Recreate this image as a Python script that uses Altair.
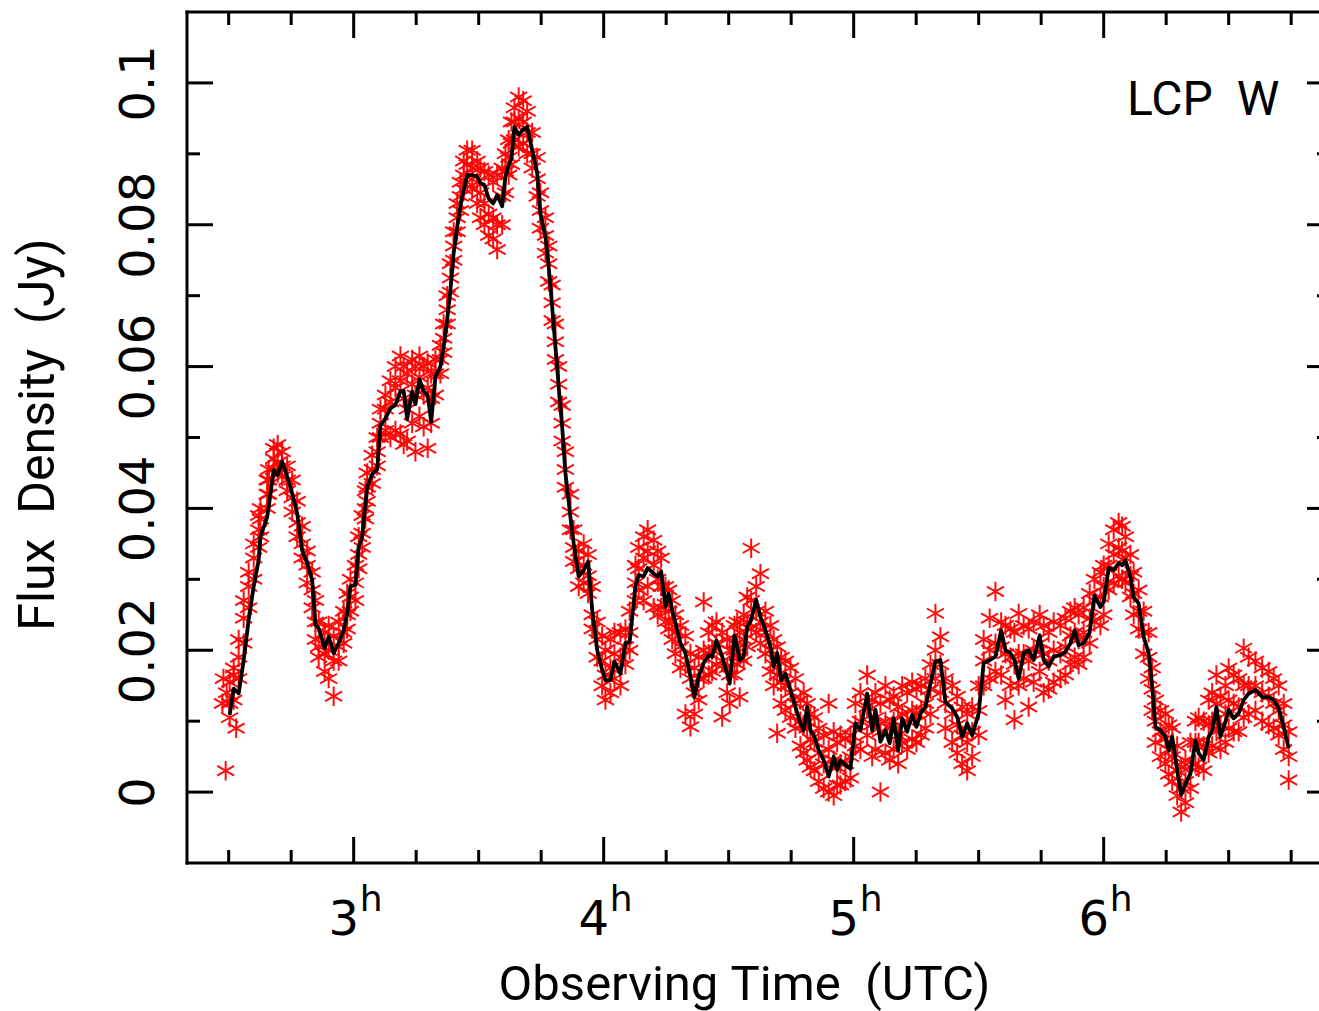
import altair as alt
import pandas as pd

# ---------------- data ----------------
line_time = [
    2.504, 2.520, 2.540, 2.560, 2.580, 2.600, 2.620, 2.627, 2.654, 2.660,
    2.680, 2.696, 2.714, 2.734, 2.754, 2.774, 2.794, 2.814, 2.834, 2.847,
    2.860, 2.884, 2.900, 2.920, 2.940, 2.960, 2.974, 2.987, 3.007, 3.020,
    3.034, 3.047, 3.054, 3.074, 3.094, 3.107, 3.127, 3.147, 3.167, 3.187,
    3.200, 3.214, 3.234, 3.247, 3.263, 3.280, 3.296, 3.310, 3.327, 3.347,
    3.360, 3.374, 3.387, 3.400, 3.414, 3.427, 3.440, 3.454, 3.474, 3.494,
    3.507, 3.523, 3.540, 3.558, 3.574, 3.594, 3.607, 3.620, 3.631, 3.643,
    3.660, 3.678, 3.694, 3.714, 3.734, 3.747, 3.767, 3.780, 3.794, 3.807,
    3.820, 3.834, 3.847, 3.867, 3.880, 3.900, 3.920, 3.938, 3.954, 3.974,
    3.994, 4.007, 4.027, 4.043, 4.067, 4.087, 4.104, 4.127, 4.140, 4.160,
    4.176, 4.200, 4.216, 4.230, 4.247, 4.260, 4.274, 4.287, 4.307, 4.327,
    4.347, 4.363, 4.380, 4.400, 4.420, 4.434, 4.451, 4.474, 4.494, 4.504,
    4.523, 4.534, 4.544, 4.560, 4.574, 4.590, 4.610, 4.627, 4.647, 4.667,
    4.680, 4.694, 4.710, 4.727, 4.747, 4.767, 4.787, 4.800, 4.814, 4.827,
    4.843, 4.860, 4.880, 4.900, 4.920, 4.934, 4.947, 4.967, 4.987, 5.007,
    5.027, 5.054, 5.074, 5.087, 5.107, 5.127, 5.144, 5.160, 5.178, 5.194,
    5.214, 5.234, 5.251, 5.270, 5.287, 5.307, 5.327, 5.347, 5.367, 5.394,
    5.414, 5.434, 5.454, 5.474, 5.500, 5.520, 5.544, 5.567, 5.590, 5.607,
    5.627, 5.643, 5.660, 5.680, 5.700, 5.720, 5.744, 5.760, 5.780, 5.800,
    5.827, 5.847, 5.867, 5.884, 5.900, 5.920, 5.944, 5.963, 5.987, 6.000,
    6.020, 6.040, 6.060, 6.074, 6.087, 6.107, 6.120, 6.140, 6.160, 6.180,
    6.194, 6.207, 6.227, 6.247, 6.260, 6.274, 6.294, 6.310, 6.327, 6.347,
    6.367, 6.380, 6.400, 6.420, 6.434, 6.451, 6.467, 6.487, 6.500, 6.520,
    6.540, 6.560, 6.580, 6.607, 6.634, 6.660, 6.680, 6.700, 6.720, 6.740,
]

line_flux = [
    0.0109, 0.0146, 0.0139, 0.0186, 0.0243, 0.0290, 0.0327, 0.0360, 0.0388, 0.0402,
    0.0454, 0.0447, 0.0466, 0.0445, 0.0421, 0.0393, 0.0341, 0.0323, 0.0299, 0.0236,
    0.0231, 0.0203, 0.0219, 0.0196, 0.0210, 0.0228, 0.0252, 0.0290, 0.0292, 0.0346,
    0.0360, 0.0407, 0.0430, 0.0448, 0.0455, 0.0517, 0.0527, 0.0541, 0.0546, 0.0565,
    0.0566, 0.0526, 0.0565, 0.0547, 0.0582, 0.0565, 0.0560, 0.0522, 0.0586, 0.0600,
    0.0628, 0.0666, 0.0708, 0.0760, 0.0797, 0.0826, 0.0849, 0.0870, 0.0870, 0.0868,
    0.0859, 0.0856, 0.0837, 0.0830, 0.0842, 0.0826, 0.0868, 0.0884, 0.0894, 0.0938,
    0.0927, 0.0934, 0.0938, 0.0905, 0.0873, 0.0816, 0.0783, 0.0741, 0.0684, 0.0628,
    0.0572, 0.0515, 0.0450, 0.0388, 0.0351, 0.0304, 0.0313, 0.0325, 0.0257, 0.0200,
    0.0172, 0.0158, 0.0158, 0.0184, 0.0167, 0.0210, 0.0212, 0.0290, 0.0306, 0.0304,
    0.0316, 0.0308, 0.0304, 0.0311, 0.0261, 0.0280, 0.0257, 0.0238, 0.0210, 0.0196,
    0.0163, 0.0134, 0.0163, 0.0182, 0.0193, 0.0191, 0.0214, 0.0191, 0.0167, 0.0153,
    0.0221, 0.0205, 0.0186, 0.0191, 0.0233, 0.0243, 0.0271, 0.0247, 0.0228, 0.0205,
    0.0177, 0.0196, 0.0158, 0.0167, 0.0144, 0.0120, 0.0097, 0.0087, 0.0120, 0.0087,
    0.0078, 0.0059, 0.0045, 0.0022, 0.0050, 0.0031, 0.0045, 0.0038, 0.0033, 0.0097,
    0.0087, 0.0139, 0.0087, 0.0116, 0.0071, 0.0087, 0.0069, 0.0104, 0.0059, 0.0104,
    0.0085, 0.0109, 0.0092, 0.0113, 0.0120, 0.0153, 0.0184, 0.0186, 0.0127, 0.0118,
    0.0106, 0.0078, 0.0097, 0.0080, 0.0111, 0.0182, 0.0186, 0.0191, 0.0228, 0.0200,
    0.0196, 0.0186, 0.0160, 0.0196, 0.0200, 0.0186, 0.0221, 0.0186, 0.0177, 0.0191,
    0.0193, 0.0198, 0.0210, 0.0228, 0.0207, 0.0210, 0.0225, 0.0277, 0.0261, 0.0268,
    0.0316, 0.0313, 0.0323, 0.0320, 0.0327, 0.0304, 0.0275, 0.0266, 0.0219, 0.0196,
    0.0149, 0.0092, 0.0087, 0.0078, 0.0059, 0.0078, 0.0031, -0.0004, 0.0012, 0.0026,
    0.0073, 0.0055, 0.0045, 0.0078, 0.0087, 0.0120, 0.0078, 0.0099, 0.0116, 0.0104,
    0.0111, 0.0130, 0.0139, 0.0144, 0.0134, 0.0134, 0.0130, 0.0118, 0.0092, 0.0062,
]

# individual measurements (red asterisks) at each sample time of the curve
red_flux = [
    [0.0125, 0.0155, 0.0105], [0.0165, 0.0130, 0.0175], [0.0190, 0.0160, 0.0215], [0.0245, 0.0210, 0.0270], [0.0290, 0.0260, 0.0310],
    [0.0330, 0.0300, 0.0350], [0.0370, 0.0345, 0.0390], [0.0385, 0.0360, 0.0400], [0.0420, 0.0400, 0.0440], [0.0440, 0.0420, 0.0455],
    [0.0470, 0.0455, 0.0485], [0.0490, 0.0465, 0.0450], [0.0480, 0.0460, 0.0445], [0.0460, 0.0440, 0.0425], [0.0440, 0.0415, 0.0395],
    [0.0410, 0.0380, 0.0360], [0.0375, 0.0350, 0.0330], [0.0340, 0.0320, 0.0295], [0.0310, 0.0285, 0.0260], [0.0270, 0.0240, 0.0215],
    [0.0240, 0.0205, 0.0190], [0.0225, 0.0195, 0.0170], [0.0235, 0.0200, 0.0160], [0.0220, 0.0185, 0.0135], [0.0240, 0.0205, 0.0185],
    [0.0255, 0.0225, 0.0210], [0.0280, 0.0250, 0.0230], [0.0300, 0.0275, 0.0255], [0.0320, 0.0295, 0.0270], [0.0360, 0.0335, 0.0315],
    [0.0390, 0.0365, 0.0345], [0.0425, 0.0400, 0.0385], [0.0450, 0.0430, 0.0410], [0.0475, 0.0455, 0.0435], [0.0500, 0.0480, 0.0460],
    [0.0540, 0.0520, 0.0500], [0.0560, 0.0540, 0.0510], [0.0580, 0.0550, 0.0500], [0.0600, 0.0570, 0.0510], [0.0615, 0.0580, 0.0505],
    [0.0600, 0.0555, 0.0490], [0.0590, 0.0540, 0.0495], [0.0610, 0.0575, 0.0520], [0.0600, 0.0560, 0.0480], [0.0615, 0.0585, 0.0530],
    [0.0600, 0.0560, 0.0515], [0.0605, 0.0570, 0.0485], [0.0590, 0.0555, 0.0520], [0.0610, 0.0590, 0.0560], [0.0630, 0.0610, 0.0590],
    [0.0660, 0.0640, 0.0620], [0.0700, 0.0680, 0.0660], [0.0745, 0.0725, 0.0705], [0.0790, 0.0770, 0.0750], [0.0830, 0.0810, 0.0790],
    [0.0860, 0.0840, 0.0820], [0.0890, 0.0870, 0.0850], [0.0905, 0.0885, 0.0860], [0.0905, 0.0880, 0.0850], [0.0890, 0.0860, 0.0830],
    [0.0880, 0.0845, 0.0810], [0.0875, 0.0830, 0.0800], [0.0870, 0.0815, 0.0785], [0.0860, 0.0810, 0.0780], [0.0870, 0.0800, 0.0765],
    [0.0880, 0.0840, 0.0800], [0.0900, 0.0875, 0.0845], [0.0920, 0.0895, 0.0870], [0.0945, 0.0915, 0.0885], [0.0965, 0.0945, 0.0920],
    [0.0980, 0.0950, 0.0910], [0.0975, 0.0945, 0.0915], [0.0960, 0.0930, 0.0900], [0.0930, 0.0900, 0.0880], [0.0895, 0.0865, 0.0840],
    [0.0845, 0.0820, 0.0795], [0.0810, 0.0785, 0.0760], [0.0770, 0.0745, 0.0720], [0.0715, 0.0690, 0.0665], [0.0660, 0.0635, 0.0610],
    [0.0600, 0.0575, 0.0550], [0.0545, 0.0520, 0.0495], [0.0480, 0.0455, 0.0430], [0.0420, 0.0395, 0.0370], [0.0370, 0.0345, 0.0325],
    [0.0340, 0.0315, 0.0290], [0.0350, 0.0320, 0.0295], [0.0335, 0.0305, 0.0280], [0.0290, 0.0250, 0.0230], [0.0240, 0.0215, 0.0190],
    [0.0220, 0.0185, 0.0150], [0.0200, 0.0165, 0.0130], [0.0215, 0.0175, 0.0140], [0.0225, 0.0195, 0.0160], [0.0225, 0.0190, 0.0150],
    [0.0230, 0.0205, 0.0180], [0.0255, 0.0225, 0.0200], [0.0320, 0.0295, 0.0270], [0.0345, 0.0315, 0.0285], [0.0360, 0.0330, 0.0270],
    [0.0370, 0.0340, 0.0290], [0.0355, 0.0320, 0.0260], [0.0340, 0.0300, 0.0250], [0.0330, 0.0290, 0.0260], [0.0290, 0.0265, 0.0240],
    [0.0285, 0.0255, 0.0230], [0.0270, 0.0240, 0.0215], [0.0250, 0.0225, 0.0195], [0.0235, 0.0205, 0.0175], [0.0220, 0.0180, 0.0110],
    [0.0195, 0.0160, 0.0092], [0.0175, 0.0140, 0.0110], [0.0190, 0.0160, 0.0130], [0.0268, 0.0200, 0.0160], [0.0225, 0.0195, 0.0165],
    [0.0235, 0.0200, 0.0170], [0.0240, 0.0210, 0.0180], [0.0225, 0.0185, 0.0106], [0.0215, 0.0175, 0.0140], [0.0200, 0.0165, 0.0125],
    [0.0235, 0.0200, 0.0165], [0.0240, 0.0210, 0.0180], [0.0225, 0.0190, 0.0134], [0.0250, 0.0215, 0.0185], [0.0275, 0.0240, 0.0205],
    [0.0344, 0.0270, 0.0230], [0.0290, 0.0255, 0.0225], [0.0308, 0.0240, 0.0210], [0.0255, 0.0225, 0.0195], [0.0235, 0.0200, 0.0170],
    [0.0215, 0.0180, 0.0150], [0.0205, 0.0165, 0.0083], [0.0190, 0.0155, 0.0125], [0.0185, 0.0150, 0.0115], [0.0175, 0.0140, 0.0105],
    [0.0160, 0.0125, 0.0090], [0.0130, 0.0100, 0.0065], [0.0140, 0.0095, 0.0055], [0.0125, 0.0090, 0.0045], [0.0110, 0.0075, 0.0035],
    [0.0105, 0.0070, 0.0030], [0.0090, 0.0055, 0.0015], [0.0080, 0.0040, 0.0005], [0.0125, 0.0060, 0.0000], [0.0085, 0.0045, -0.0005],
    [0.0070, 0.0035, 0.0010], [0.0080, 0.0040, 0.0010], [0.0075, 0.0040, 0.0015], [0.0080, 0.0050, 0.0020], [0.0125, 0.0095, 0.0065],
    [0.0140, 0.0100, 0.0060], [0.0165, 0.0120, 0.0080], [0.0130, 0.0095, 0.0050], [0.0140, 0.0105, 0.0060], [0.0125, 0.0085, 0.0000],
    [0.0150, 0.0100, 0.0055], [0.0130, 0.0090, 0.0045], [0.0135, 0.0100, 0.0060], [0.0120, 0.0080, 0.0040], [0.0150, 0.0110, 0.0070],
    [0.0140, 0.0100, 0.0060], [0.0155, 0.0115, 0.0075], [0.0145, 0.0110, 0.0070], [0.0150, 0.0115, 0.0080], [0.0160, 0.0125, 0.0090],
    [0.0180, 0.0145, 0.0110], [0.0252, 0.0200, 0.0160], [0.0219, 0.0180, 0.0140], [0.0160, 0.0125, 0.0090], [0.0150, 0.0110, 0.0070],
    [0.0135, 0.0095, 0.0055], [0.0120, 0.0080, 0.0040], [0.0110, 0.0070, 0.0030], [0.0120, 0.0085, 0.0050], [0.0150, 0.0115, 0.0080],
    [0.0215, 0.0185, 0.0150], [0.0245, 0.0200, 0.0160], [0.0283, 0.0210, 0.0170], [0.0240, 0.0205, 0.0165], [0.0235, 0.0195, 0.0130],
    [0.0230, 0.0190, 0.0150], [0.0225, 0.0180, 0.0102], [0.0252, 0.0195, 0.0150], [0.0235, 0.0195, 0.0160], [0.0230, 0.0185, 0.0120],
    [0.0240, 0.0200, 0.0155], [0.0250, 0.0210, 0.0170], [0.0235, 0.0195, 0.0140], [0.0225, 0.0185, 0.0145], [0.0240, 0.0200, 0.0155],
    [0.0235, 0.0195, 0.0160], [0.0245, 0.0205, 0.0165], [0.0255, 0.0220, 0.0180], [0.0260, 0.0225, 0.0190], [0.0250, 0.0215, 0.0180],
    [0.0260, 0.0225, 0.0190], [0.0280, 0.0245, 0.0210], [0.0300, 0.0270, 0.0240], [0.0310, 0.0275, 0.0235], [0.0320, 0.0290, 0.0250],
    [0.0350, 0.0320, 0.0285], [0.0370, 0.0335, 0.0295], [0.0380, 0.0345, 0.0305], [0.0375, 0.0340, 0.0300], [0.0360, 0.0330, 0.0295],
    [0.0335, 0.0305, 0.0275], [0.0310, 0.0280, 0.0250], [0.0285, 0.0255, 0.0230], [0.0255, 0.0225, 0.0195], [0.0225, 0.0190, 0.0160],
    [0.0175, 0.0145, 0.0115], [0.0130, 0.0100, 0.0070], [0.0115, 0.0085, 0.0050], [0.0110, 0.0075, 0.0040], [0.0095, 0.0060, 0.0025],
    [0.0090, 0.0050, 0.0015], [0.0065, 0.0030, -0.0005], [0.0035, 0.0005, -0.0028], [0.0045, 0.0015, -0.0015], [0.0070, 0.0035, 0.0005],
    [0.0100, 0.0070, 0.0040], [0.0105, 0.0070, 0.0035], [0.0100, 0.0065, 0.0030], [0.0130, 0.0095, 0.0055], [0.0140, 0.0100, 0.0065],
    [0.0165, 0.0125, 0.0085], [0.0135, 0.0095, 0.0060], [0.0150, 0.0110, 0.0070], [0.0175, 0.0130, 0.0090], [0.0165, 0.0125, 0.0085],
    [0.0160, 0.0120, 0.0085], [0.0203, 0.0150, 0.0105], [0.0190, 0.0150, 0.0110], [0.0185, 0.0150, 0.0115], [0.0175, 0.0140, 0.0100],
    [0.0170, 0.0135, 0.0095], [0.0160, 0.0125, 0.0090], [0.0150, 0.0115, 0.0080], [0.0125, 0.0095, 0.0060], [0.0085, 0.0050, 0.0017],
]

extra_red_time = [2.475, 2.479, 2.488, 2.492, 2.530]
extra_red_flux = [0.0125, 0.0160, 0.0030, 0.0140, 0.0090]

x_major = [3, 4, 5, 6]
x_major_labels = ["3", "4", "5", "6"]
x_minor = [2.5, 2.75, 3.25, 3.5, 3.75, 4.25, 4.5, 4.75, 5.25, 5.5, 5.75, 6.25, 6.5, 6.75]
y_major = [0.0, 0.02, 0.04, 0.06, 0.08, 0.1]
y_minor = [0.01, 0.03, 0.05, 0.07, 0.09]

assert len(line_time) == len(line_flux) == len(red_flux)

# ---------------- layout ----------------
W, H = 1132, 851
T0, T1 = 2.3333, 2.3333 + 1132 / 250.0
MAJ, MIN = 26, 13
TEXT_FONT = "Roboto"
NUM_FONT = "DejaVu Sans"

line_df = pd.DataFrame({"t": line_time, "v": line_flux})
red_rows = []
for t, vals in zip(line_time, red_flux):
    for v in vals:
        red_rows.append({"t": t, "v": v})
for t, v in zip(extra_red_time, extra_red_flux):
    red_rows.append({"t": t, "v": v})
red_df = pd.DataFrame(red_rows)

xmaj_df = pd.DataFrame({"t": x_major, "label": x_major_labels})
xmin_df = pd.DataFrame({"t": x_minor})
ymaj_df = pd.DataFrame({"v": y_major})
ymin_df = pd.DataFrame({"v": y_minor})
one = pd.DataFrame({"k": [0]})

xs = alt.Scale(domain=[T0, T1], nice=False, zero=False)
ys = alt.Scale(domain=[-0.01, 0.11], nice=False, zero=False)

X_AXIS = alt.Axis(labels=False, ticks=False, tickSize=0, domain=False, grid=False,
                  title="Observing\u00a0Time\u00a0\u00a0(UTC)", titleFont=TEXT_FONT,
                  titleFontSize=49, titleFontWeight="normal", titleColor="black",
                  titleX=557, titleY=136, titleAlign="center", titleBaseline="alphabetic")
Y_AXIS = alt.Axis(values=y_major, format="~g", ticks=False, tickSize=0, domain=False, grid=False,
                  labelFont=NUM_FONT, labelFontSize=48, labelColor="black",
                  labelAngle=270, labelAlign="center", labelBaseline="alphabetic",
                  labelPadding=34, labelOverlap=False,
                  title="Flux\u00a0\u00a0Density\u00a0\u00a0(Jy)", titleFont=TEXT_FONT,
                  titleFontSize=50, titleFontWeight="normal", titleColor="black",
                  titleAngle=270, titleX=-134, titleY=422, titleAlign="center",
                  titleBaseline="alphabetic")

def X(field="t"):
    return alt.X(f"{field}:Q", scale=xs, axis=X_AXIS)

def Y(field="v"):
    return alt.Y(f"{field}:Q", scale=ys, axis=Y_AXIS)

ASTERISK = "M0,-1L0,1M-0.87,-0.5L0.87,0.5M-0.87,0.5L0.87,-0.5"

red = alt.Chart(red_df).mark_point(
    shape=ASTERISK, filled=False, stroke="#ff0000", strokeWidth=2.0, size=380, opacity=0.95
).encode(x=X(), y=Y())

line = alt.Chart(line_df).mark_line(color="black", strokeWidth=3.8, strokeJoin="round").encode(
    x=X(), y=Y()
)

rule_style = dict(color="black", strokeWidth=3)

bot_major = alt.Chart(xmaj_df).mark_rule(**rule_style).encode(x=X(), y=alt.value(H), y2=alt.value(H - MAJ))
bot_minor = alt.Chart(xmin_df).mark_rule(**rule_style).encode(x=X(), y=alt.value(H), y2=alt.value(H - MIN))
top_major = alt.Chart(xmaj_df).mark_rule(**rule_style).encode(x=X(), y=alt.value(0), y2=alt.value(MAJ))
top_minor = alt.Chart(xmin_df).mark_rule(**rule_style).encode(x=X(), y=alt.value(0), y2=alt.value(MIN))
left_major = alt.Chart(ymaj_df).mark_rule(**rule_style).encode(y=Y(), x=alt.value(0), x2=alt.value(MAJ))
left_minor = alt.Chart(ymin_df).mark_rule(**rule_style).encode(y=Y(), x=alt.value(0), x2=alt.value(MIN))
right_major = alt.Chart(ymaj_df).mark_rule(**rule_style).encode(y=Y(), x=alt.value(1120), x2=alt.value(1146))
right_minor = alt.Chart(ymin_df).mark_rule(**rule_style).encode(y=Y(), x=alt.value(1130), x2=alt.value(1146))

frame_left = alt.Chart(one).mark_rule(color="black", strokeWidth=3, strokeCap="square").encode(
    x=alt.value(0), y=alt.value(0), y2=alt.value(H))
frame_top = alt.Chart(one).mark_rule(color="black", strokeWidth=3, strokeCap="square").encode(
    x=alt.value(0), x2=alt.value(W + 20), y=alt.value(0))
frame_bottom = alt.Chart(one).mark_rule(color="black", strokeWidth=3, strokeCap="square").encode(
    x=alt.value(0), x2=alt.value(W + 20), y=alt.value(H))

xlab = alt.Chart(xmaj_df).mark_text(
    font=NUM_FONT, fontSize=48, align="center", baseline="alphabetic", dx=-10, color="black"
).encode(x=X(), y=alt.value(923), text="label:N")
xsup = alt.Chart(xmaj_df).mark_text(
    font=NUM_FONT, fontSize=36, align="left", baseline="alphabetic", dx=6, color="black"
).encode(x=X(), y=alt.value(899), text=alt.value("h"))

tag = alt.Chart(one).mark_text(
    font=TEXT_FONT, fontSize=48, align="left", baseline="alphabetic", color="black"
).encode(x=alt.value(940), y=alt.value(103), text=alt.value("LCP\u00a0\u00a0W"))

chart = alt.layer(
    red, line,
    bot_major, bot_minor, top_major, top_minor,
    left_major, left_minor, right_major, right_minor,
    frame_left, frame_top, frame_bottom,
    xlab, xsup, tag,
).properties(
    width=W, height=H,
    autosize=alt.AutoSizeParams(type="none"),
    padding={"left": 187, "top": 12, "right": 0, "bottom": 148},
    background="white",
).configure_view(stroke="transparent")

chart.save("out.html", embed_options={"renderer": "svg", "actions": False})
